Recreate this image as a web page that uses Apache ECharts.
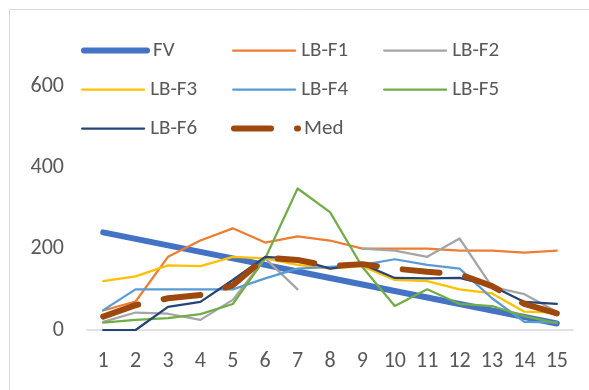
<!DOCTYPE html>
<html>
<head>
<meta charset="utf-8">
<script src="https://cdn.jsdelivr.net/npm/echarts@6/dist/echarts.min.js"></script>
<style>html,body{margin:0;padding:0;background:#fff;}#c{width:589px;height:390px;}</style>
</head>
<body>
<div id="c"></div>
<script>
const categories = ['1','2','3','4','5','6','7','8','9','10','11','12','13','14','15'];
const FV    = [240,224,208,192,176,160,144,128,112,96,80,64,48,32,16];
const LB_F1 = [48,70,180,220,250,215,230,220,200,200,200,195,195,190,195];
const LB_F2 = [20,43,40,25,74,176,100,null,200,195,180,225,106,88,45];
const LB_F3 = [120,132,159,157,180,176,160,151,157,123,120,100,90,45,43];
const LB_F4 = [49,100,100,100,100,127,151,155,160,174,160,151,78,20,19];
const LB_F5 = [18,25,29,39,64,176,348,290,155,59,100,64,59,34,17];
const LB_F6 = [0,0,57,69,123,180,174,151,162,128,127,128,108,69,64];
const Med   = [33,61,78,86,110,178,172,157,162,151,143,137,108,64,41];
const yTicks = [0,200,400,600];

const FONT = "Carlito, 'Liberation Sans Narrow', 'Liberation Sans', sans-serif";
const TXT = '#595959';

const seriesDefs = [
  {name:'FV', data:FV, color:'#4472C4', width:6, type:'solid', iw:63},
  {name:'LB-F1', data:LB_F1, color:'#ED7D31', width:2.25, type:'solid', iw:62},
  {name:'LB-F2', data:LB_F2, color:'#A5A5A5', width:2.25, type:'solid', iw:62},
  {name:'LB-F3', data:LB_F3, color:'#FFC000', width:2.25, type:'solid', iw:62},
  {name:'LB-F4', data:LB_F4, color:'#5B9BD5', width:2.25, type:'solid', iw:62},
  {name:'LB-F5', data:LB_F5, color:'#70AD47', width:2.25, type:'solid', iw:62},
  {name:'LB-F6', data:LB_F6, color:'#264478', width:2.25, type:'solid', iw:62},
  {name:'Med', data:Med, color:'#9E480E', width:6, type:[37,26], iw:64}
];

const legendPos = [
  [81,50],[232,50],[383,50],
  [81,89],[232,89],[383,89],
  [81,128],[231,128]
];

const legends = seriesDefs.map((s,i)=>({
  data:[s.name],
  left:legendPos[i][0],
  top:legendPos[i][1]-10,
  padding:0,
  itemWidth:s.iw,
  itemHeight:20,
  itemGap:0,
  selectedMode:false,
  itemStyle:{opacity:0},
  lineStyle:{width:s.width,color:s.color,type:s.type,cap:'round'},
  textStyle:{fontFamily:FONT,fontSize:21,color:TXT,padding:[0,0,0,1]}
}));

const chart = echarts.init(document.getElementById('c'), null, {renderer:'canvas'});
chart.setOption({
  backgroundColor:'#fff',
  animation:false,
  graphic:[{type:'rect',shape:{x:9.5,y:9.5,width:620,height:420},style:{fill:'none',stroke:'#d9d9d9',lineWidth:1},silent:true}],
  legend:legends,
  grid:{left:87,right:16,top:86,bottom:60},
  xAxis:{
    type:'category',
    data:categories,
    boundaryGap:true,
    axisLine:{lineStyle:{color:'#d9d9d9',width:1.5}},
    axisTick:{show:false},
    axisLabel:{fontFamily:FONT,fontSize:22,color:TXT,margin:20}
  },
  yAxis:{
    type:'value',
    min:yTicks[0],
    max:yTicks[yTicks.length-1],
    interval:200,
    splitLine:{show:false},
    axisLine:{show:false},
    axisTick:{show:false},
    axisLabel:{fontFamily:FONT,fontSize:22,color:TXT,margin:23}
  },
  series:seriesDefs.map(s=>({
    name:s.name,
    type:'line',
    data:s.data,
    symbol:'none',
    connectNulls:false,
    color:s.color,
    lineStyle:{color:s.color,width:s.width,type:s.type,cap:'round',join:'round'}
  }))
});
</script>
</body>
</html>
